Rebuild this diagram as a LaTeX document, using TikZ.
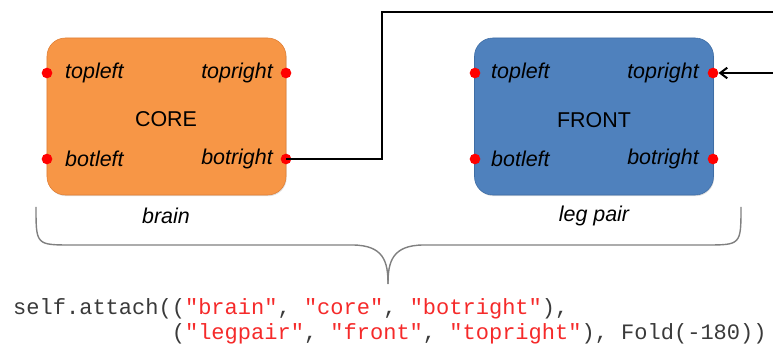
\documentclass[tikz,border=0pt]{standalone}
\usepackage{xcolor}
\usepackage{fontspec}
\setmainfont{Liberation Sans}
\setmonofont{Liberation Mono}
\usepackage{tikz}
\usetikzlibrary{arrows.meta,positioning,shadows}

\definecolor{coreorange}{HTML}{F79646}
\definecolor{coreedge}{HTML}{E07F35}
\definecolor{frontblue}{HTML}{4F81BD}
\definecolor{frontedge}{HTML}{3E6DA5}
\definecolor{codered}{HTML}{F52A2A}
\definecolor{codegray}{HTML}{3A3A3A}
\definecolor{bracegray}{HTML}{808080}

\newcommand{\labfont}{\fontsize{18.3}{22}\selectfont}
\newcommand{\str}[1]{\textcolor{codered}{#1}}

\begin{document}
\begin{tikzpicture}[x=0.03cm, y=-0.03cm,
	partbox/.style={draw, rounded corners=0.55cm, minimum width=7.17cm, minimum height=4.71cm,
		line width=0.5pt, drop shadow={opacity=0.25, shadow xshift=0.6pt, shadow yshift=-1pt}},
	pin/.style={circle, fill=red, inner sep=0pt, minimum size=0.32cm},
	portlab/.style={font=\labfont\itshape, inner sep=0pt},
	codeline/.style={anchor=base west, inner sep=0pt, font=\ttfamily\fontsize{18.8}{21}\selectfont, text=codegray},
	wire/.style={line width=1.7pt, black}]
		\useasboundingbox (0,0) rectangle (773,345);

		\node[partbox, fill=coreorange, draw=coreedge] (core) at (166.5,116.5) {};
		\node[partbox, fill=frontblue, draw=frontedge] (front) at (594,116.5) {};
		\node[font=\labfont] (corename) at (166,119) {CORE};
		\node[font=\labfont] (frontname) at (594,120) {FRONT};

		\node[portlab, anchor=west] (ctl) at (65,73) {topleft};
		\node[portlab, anchor=east] (ctr) at (273,73) {topright};
		\node[portlab, anchor=west] (cbl) at (65,159) {botleft};
		\node[portlab, anchor=east] (cbr) at (273,159) {botright};
		\node[portlab, anchor=west] (ftl) at (491,73) {topleft};
		\node[portlab, anchor=east] (ftr) at (699,73) {topright};
		\node[portlab, anchor=west] (fbl) at (491,159) {botleft};
		\node[portlab, anchor=east] (fbr) at (699,159) {botright};

		\node[pin] (coretl) at (47,73) {};
		\node[pin] (coretr) at (286,73) {};
		\node[pin] (corebl) at (47,159) {};
		\node[pin] (corebr) at (286,159) {};
		\node[pin] (fronttl) at (475,73) {};
		\node[pin] (fronttr) at (713,73) {};
		\node[pin] (frontbl) at (475,159) {};
		\node[pin] (frontbr) at (713,159) {};

		\node[portlab] (brain) at (166,216) {brain};
		\node[portlab] (legpair) at (594,216) {leg pair};

		% folded link between the two parts
		\coordinate (bend) at (382,12);
		\coordinate (outend) at (774,12);
		\coordinate (inend) at (774,73);
		\draw[wire] (corebr.center) -| (bend) -- (outend);
		\draw[wire, -{Straight Barb[length=6pt, width=9pt]}] (inend) -- (fronttr.east);

		% brace
		\draw[bracegray, line width=1.2pt] (36,207) .. controls (36,245) .. (72,245) -- (352,245)
			.. controls (384,245) and (388,262) .. (388,284);
		\draw[bracegray, line width=1.2pt] (741,207) .. controls (741,245) .. (705,245) -- (424,245)
			.. controls (392,245) and (388,262) .. (388,284);

		\node[codeline] (code1) at (13,315) {self.attach((\str{"brain"}, \str{"core"}, \str{"botright"}),};
		\node[codeline] (code2) at (13,340) {\phantom{self.attach(}(\str{"legpair"}, \str{"front"}, \str{"topright"}), Fold(-180))};
	\end{tikzpicture}
\end{document}
